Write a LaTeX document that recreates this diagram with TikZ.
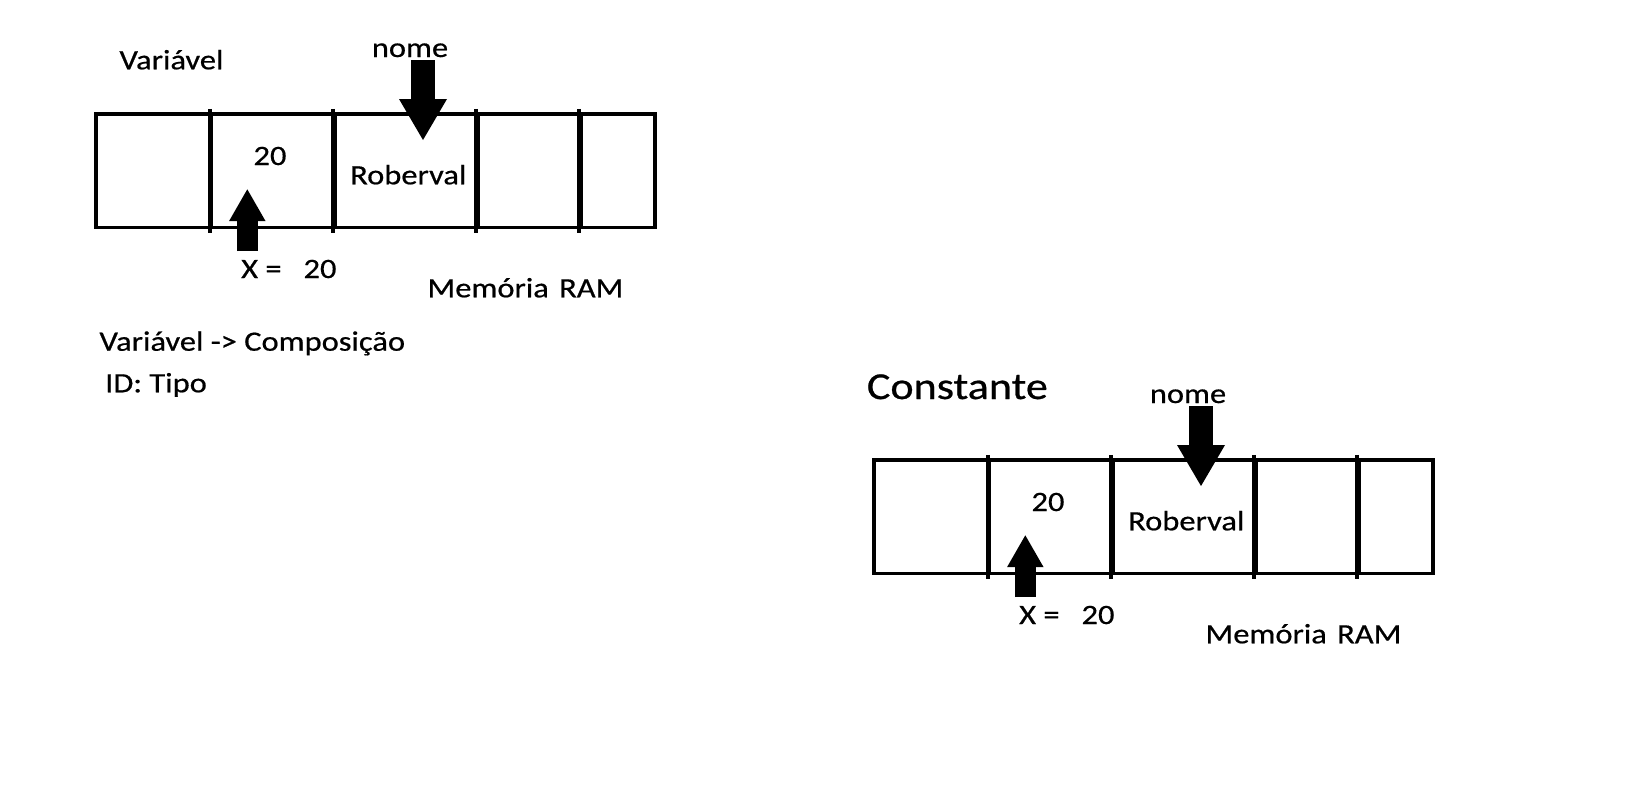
\documentclass[tikz,border=0pt]{standalone}
\usepackage{fontspec}
\setmainfont{Carlito}[FakeStretch=1.16, FakeBold=0.6]
\usetikzlibrary{arrows.meta}
\tikzset{
  cell/.style={draw=black, line width=3.6pt, inner sep=0pt, minimum height=113.75pt},
  divider/.style={draw=black, line width=3.6pt},
  txt/.style={inner sep=0pt, font=\fontsize{28}{34}\selectfont, text=black},
  title/.style={inner sep=0pt, font=\fontsize{38}{46}\selectfont, text=black},
  blockdown/.style={line width=24pt, line cap=butt, -{Triangle[length=41pt,width=48pt,line width=0pt]}},
  blockup/.style={line width=20.7pt, line cap=butt, -{Triangle[length=31.7pt,width=36.4pt,line width=0pt]}}
}
\newcommand{\memblock}[3]{%
\begin{scope}[shift={(#2,#3)}]
  \node[cell, minimum width=115.5pt] (#1c1) at (153.75,170.6) {};
  \node[cell, minimum width=123.5pt] (#1c2) at (273.25,170.6) {};
  \node[cell, minimum width=143pt]   (#1c3) at (406.5,170.6) {};
  \node[cell, minimum width=103pt]   (#1c4) at (529.5,170.6) {};
  \node[cell, minimum width=74pt]    (#1c5) at (618,170.6) {};
  \foreach \c in {c2,c3,c4,c5}{
    \draw[divider] ([yshift=3pt]#1\c.north west) -- ([yshift=-3.5pt]#1\c.south west);
  }
  \node[txt, anchor=base] (#1nome) at (410,57) {nome};
  \node[txt, anchor=base] (#1val) at (270,165) {20};
  \node[txt, anchor=base west] (#1rob) at (350,184.3) {Roberval};
  \node[txt, anchor=base west] (#1x) at (241,278) {X =\hspace{22pt}20};
  \node[txt, anchor=base west] (#1ram) at (427.3,297.3) {Memória\hspace{3pt} RAM};
  \coordinate (#1dstart) at (423,60);
  \coordinate (#1dtip) at (423,140);
  \coordinate (#1ustart) at (247.3,251);
  \coordinate (#1utip) at (247.3,189.3);
  \draw[blockdown] (#1dstart) -- (#1dtip);
  \draw[blockup] (#1ustart) -- (#1utip);
\end{scope}}
\begin{document}
\begin{tikzpicture}[x=1pt, y=-1pt]
  \fill[white] (0,0) rectangle (1649,787);
  \useasboundingbox (0,0) rectangle (1649,787);
  \node[txt, anchor=base west] (var) at (119.3,69.3) {Variável};
  \memblock{a}{0}{0}
  \node[txt, anchor=base west] (comp) at (99.3,350.7) {Variável -> Composição};
  \node[txt, anchor=base west] (id) at (105,392.3) {ID: Tipo};
  \node[title, anchor=base west] (const) at (866.7,399) {Constante};
  \memblock{b}{778}{346}
\end{tikzpicture}
\end{document}
